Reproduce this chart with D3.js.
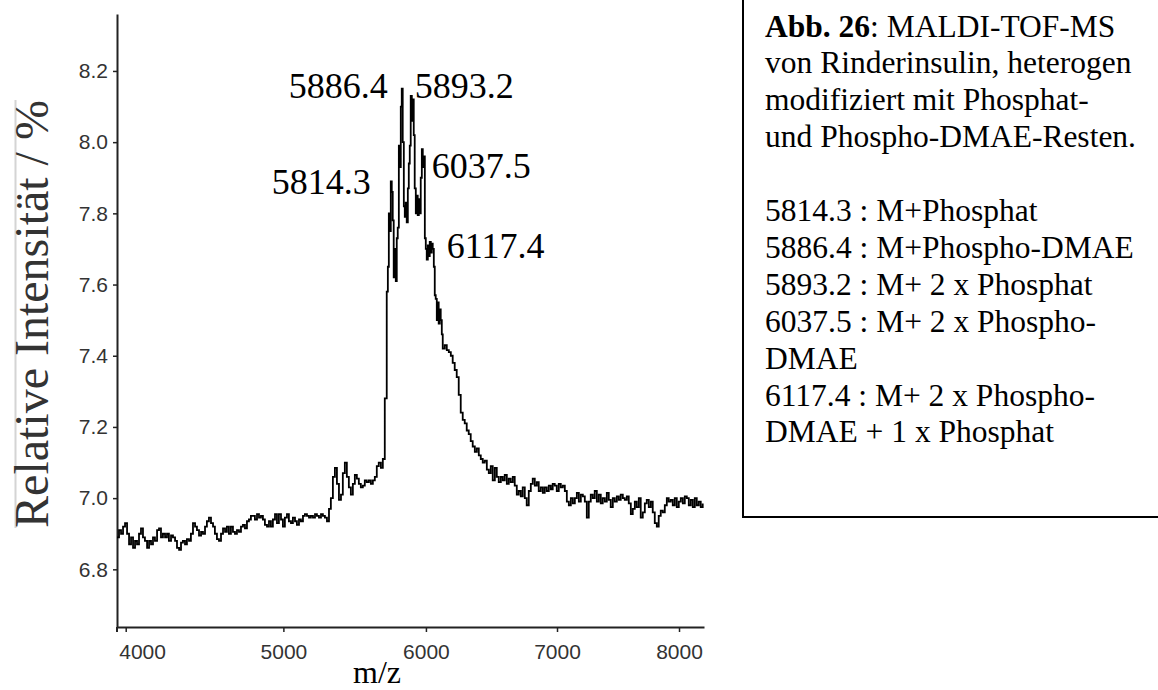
<!DOCTYPE html>
<html>
<head>
<meta charset="utf-8">
<script src="https://cdnjs.cloudflare.com/ajax/libs/d3/7.8.5/d3.min.js"></script>
<style>
	body { margin: 0; background: #fff; }
	svg { display: block; }
	.tick text { font-family: 'Liberation Sans', Arial, sans-serif; font-size: 21px; fill: #333; }
	.serif { font-family: 'Liberation Serif', 'Times New Roman', serif; }
</style>
</head>
<body>
<svg></svg>
<script>

// spectrum: m/z and relative intensity
var mz = [
	3948, 3960, 3972, 3984, 3996, 4008, 4020, 4032, 4044, 4056,
	4068, 4080, 4092, 4104, 4116, 4129, 4141, 4153, 4165, 4177,
	4190, 4202, 4214, 4226, 4239, 4251, 4263, 4276, 4288, 4301,
	4313, 4326, 4338, 4350, 4363, 4375, 4388, 4400, 4413, 4426,
	4438, 4451, 4464, 4476, 4489, 4501, 4514, 4527, 4540, 4552,
	4565, 4578, 4591, 4604, 4617, 4629, 4642, 4655, 4668, 4681,
	4694, 4707, 4720, 4733, 4746, 4759, 4772, 4785, 4798, 4811,
	4825, 4838, 4851, 4864, 4877, 4891, 4904, 4917, 4930, 4944,
	4957, 4970, 4984, 4997, 5010, 5024, 5037, 5051, 5064, 5078,
	5091, 5105, 5118, 5132, 5145, 5159, 5173, 5186, 5200, 5214,
	5227, 5241, 5255, 5268, 5282, 5296, 5310, 5323, 5337, 5351,
	5365, 5379, 5393, 5406, 5420, 5434, 5448, 5462, 5476, 5490,
	5504, 5518, 5532, 5546, 5560, 5574, 5589, 5603, 5617, 5631,
	5645, 5659, 5674, 5688,
	// peak cluster
	5702, 5716, 5724, 5731, 5738, 5745, 5752, 5759, 5766, 5774,
	5781, 5788, 5795, 5803, 5810, 5817, 5824, 5831, 5839, 5846,
	5853, 5860, 5868, 5875, 5882, 5889, 5897, 5904, 5911, 5918,
	5926, 5933, 5940, 5948, 5955, 5962, 5970, 5977, 5984, 5992,
	5999, 6006, 6014, 6021, 6028, 6036, 6043, 6050, 6058, 6065,
	6072, 6080, 6087, 6094, 6102, 6109, 6117,
	// tail
	6124, 6139, 6154, 6169, 6184, 6198, 6213, 6228, 6243, 6258,
	6273, 6288, 6303, 6318, 6333, 6348, 6364, 6379, 6394, 6409,
	6424, 6439, 6455, 6470, 6485, 6500, 6516, 6531, 6546, 6562,
	6577, 6592, 6608, 6623, 6638, 6654, 6669, 6685, 6700, 6716,
	6731, 6747, 6762, 6778, 6794, 6809, 6825, 6841, 6856, 6872,
	6888, 6903, 6919, 6935, 6951, 6966, 6982, 6998, 7014, 7030,
	7046, 7062, 7078, 7094, 7110, 7126, 7142, 7158, 7174, 7190,
	7206, 7222, 7238, 7254, 7270, 7286, 7302, 7319, 7335, 7351,
	7367, 7384, 7400, 7416, 7432, 7449, 7465, 7482, 7498, 7514,
	7531, 7547, 7564, 7580, 7597, 7613, 7630, 7646, 7663, 7679,
	7696, 7713, 7729, 7746, 7763, 7779, 7796, 7813, 7829, 7846,
	7863, 7880, 7897, 7913, 7930, 7947, 7964, 7981, 7998, 8015,
	8032, 8049, 8066, 8083, 8100, 8117, 8134, 8151, 8168, 8185,
	8202
];

var intensity = [
	6.89, 6.91, 6.90, 6.92, 6.93, 6.90, 6.87, 6.89, 6.86, 6.88,
	6.87, 6.90, 6.915, 6.89, 6.88, 6.86, 6.88, 6.87, 6.89, 6.88,
	6.91, 6.915, 6.89, 6.90, 6.89, 6.90, 6.88, 6.895, 6.89, 6.88,
	6.86, 6.855, 6.875, 6.88, 6.87, 6.885, 6.88, 6.90, 6.93, 6.92,
	6.91, 6.895, 6.905, 6.90, 6.92, 6.935, 6.945, 6.93, 6.92, 6.90,
	6.885, 6.88, 6.90, 6.915, 6.905, 6.92, 6.90, 6.92, 6.905, 6.90,
	6.91, 6.905, 6.92, 6.925, 6.915, 6.935, 6.94, 6.95, 6.95, 6.94,
	6.955, 6.945, 6.95, 6.94, 6.925, 6.92, 6.935, 6.92, 6.94, 6.955,
	6.93, 6.955, 6.94, 6.92, 6.945, 6.955, 6.935, 6.93, 6.945, 6.935,
	6.925, 6.94, 6.935, 6.95, 6.955, 6.95, 6.945, 6.95, 6.945, 6.955,
	6.95, 6.945, 6.955, 6.95, 6.945, 6.935, 6.97, 7.00, 7.06, 7.085,
	7.04, 6.995, 7.01, 7.07, 7.10, 7.06, 7.03, 7.01, 7.04, 7.065,
	7.055, 7.04, 7.03, 7.035, 7.05, 7.045, 7.05, 7.04, 7.05, 7.06,
	7.09, 7.10, 7.085, 7.11,
	// peak cluster
	7.28, 7.58, 7.65, 7.80, 7.75, 7.89, 7.86, 7.78, 7.62, 7.70,
	7.61, 7.73, 7.76, 7.99, 7.93, 8.10, 8.15, 8.00, 7.82, 7.79,
	7.83, 7.775, 7.87, 7.94, 7.99, 8.13, 8.06, 8.12, 8.02, 7.87,
	7.80, 7.85, 7.795, 7.84, 7.80, 7.90, 7.98, 7.93, 7.96, 7.73,
	7.70, 7.67, 7.71, 7.68, 7.72, 7.69, 7.715, 7.70, 7.65, 7.57,
	7.56, 7.50, 7.55, 7.49, 7.53, 7.50, 7.46,
	// tail
	7.42, 7.43, 7.416, 7.41, 7.40, 7.38, 7.36, 7.34, 7.29, 7.24,
	7.22, 7.21, 7.19, 7.18, 7.16, 7.145, 7.13, 7.14, 7.12, 7.11,
	7.10, 7.105, 7.08, 7.07, 7.09, 7.05, 7.085, 7.06, 7.045, 7.06,
	7.05, 7.065, 7.04, 7.055, 7.045, 7.06, 7.035, 7.01, 7.02, 7.005,
	7.03, 7.00, 6.98, 7.02, 7.04, 7.055, 7.035, 7.045, 7.02, 7.03,
	7.015, 7.03, 7.02, 7.035, 7.025, 7.04, 7.035, 7.02, 7.04, 7.03,
	7.035, 7.02, 6.99, 6.98, 7.00, 6.985, 7.00, 7.015, 6.99, 7.01,
	7.005, 6.99, 6.945, 6.99, 7.01, 7.00, 7.02, 6.99, 7.01, 6.985,
	7.00, 6.99, 7.015, 6.995, 6.975, 7.00, 6.99, 7.005, 6.995, 7.01,
	7.00, 6.995, 7.005, 6.985, 6.955, 6.97, 6.99, 6.975, 7.00, 6.945,
	6.96, 6.985, 6.995, 6.975, 6.99, 6.96, 6.93, 6.92, 6.95, 6.965,
	6.96, 6.98, 7.00, 6.99, 6.995, 6.98, 7.00, 6.975, 6.99, 7.00,
	6.985, 7.005, 7.00, 6.98, 6.995, 6.975, 7.00, 6.98, 6.99, 6.975,
	6.985
];

var xTicks = [4000, 5000, 6000, 7000, 8000];
var yTicks = [6.8, 7.0, 7.2, 7.4, 7.6, 7.8, 8.0, 8.2];

// peak labels, anchored in data units
var peakNames = ['5886.4', '5893.2', '5814.3', '6037.5', '6117.4'];
var peakMz = [5724, 5918, 5603, 6043, 6154];
var peakLevel = [8.124, 8.124, 7.854, 7.899, 7.674];
var peakSide = ['end', 'start', 'end', 'start', 'start'];

var captionLines = [
	'Abb. 26|: MALDI-TOF-MS',
	'von Rinderinsulin, heterogen',
	'modifiziert mit Phosphat-',
	'und Phospho-DMAE-Resten.',
	'',
	'5814.3 : M+Phosphat',
	'5886.4 : M+Phospho-DMAE',
	'5893.2 : M+ 2 x Phosphat',
	'6037.5 : M+ 2 x Phospho-',
	'DMAE',
	'6117.4 : M+ 2 x Phospho-',
	'DMAE + 1 x Phosphat'
];

var width = 1158;
var height = 690;

var svg = d3.select('svg')
		.attr('width', width)
		.attr('height', height);

// TOF axis: m/z runs on a square-root scale
var xScale = d3.scaleSqrt()
				.domain([3948, 8213])
				.range([117, 704]);

var yScale = d3.scaleLinear()
				.domain([6.638, 8.36])
				.range([627, 14]);

var xAxis = d3.axisBottom(xScale)
				.tickValues(xTicks)
				.tickFormat(d3.format('d'))
				.tickSize(5)
				.tickPadding(12)
				.tickSizeOuter(0);

var yAxis = d3.axisLeft(yScale)
				.tickValues(yTicks)
				.tickFormat(d3.format('.1f'))
				.tickSize(4)
				.tickPadding(5)
				.tickSizeOuter(0);

var gx = svg.append('g')
		.attr('transform', 'translate(0, 627)')
		.call(xAxis);

var gy = svg.append('g')
		.attr('transform', 'translate(117, 0)')
		.call(yAxis);

[gx, gy].forEach(g => {
	g.select('.domain').attr('stroke', '#222').attr('stroke-width', 2);
	g.selectAll('.tick line').attr('stroke', '#222').attr('stroke-width', 1.5);
});

// first x label is pushed right so it clears the y axis
gx.selectAll('.tick text')
	.filter(d => d === xTicks[0])
	.attr('text-anchor', 'start')
	.attr('x', -7);

// little stub of the y axis below the corner
svg.append('line')
	.attr('x1', 117).attr('x2', 117)
	.attr('y1', 627).attr('y2', 632)
	.attr('stroke', '#222')
	.attr('stroke-width', 2);

var line = d3.line()
		.x((d, i) => xScale(mz[i]))
		.y(d => yScale(d))
		.curve(d3.curveStepAfter);

svg.append('path')
	.datum(intensity)
	.attr('d', line)
	.attr('fill', 'none')
	.attr('stroke', '#000')
	.attr('stroke-width', 1.8);

// peak labels
svg.selectAll('.peak')
	.data(peakNames)
	.enter()
	.append('text')
		.attr('class', 'peak serif')
		.attr('x', (d, i) => xScale(peakMz[i]))
		.attr('y', (d, i) => yScale(peakLevel[i]))
		.attr('text-anchor', (d, i) => peakSide[i])
		.style('font-size', '36px')
		.text(d => d);

// axis titles
svg.append('line')
	.attr('x1', 15.5).attr('x2', 15.5)
	.attr('y1', 100).attr('y2', 528)
	.attr('stroke', '#d4d4d4')
	.attr('stroke-width', 2);

svg.append('text')
	.attr('class', 'serif')
	.attr('transform', 'translate(48, 314) rotate(-90)')
	.attr('text-anchor', 'middle')
	.style('font-size', '48px')
	.style('fill', '#333')
	.text('Relative Intensität / %');

// m/z sits just left of the 6000 label
svg.append('text')
	.attr('class', 'serif')
	.attr('x', 377)
	.attr('y', 683)
	.attr('text-anchor', 'middle')
	.style('font-size', '32px')
	.text('m/z');

// caption box, top and right edges run off the page
svg.append('rect')
	.attr('x', 743)
	.attr('y', -10)
	.attr('width', 500)
	.attr('height', 527)
	.attr('fill', 'none')
	.attr('stroke', '#000')
	.attr('stroke-width', 2);

var caption = svg.append('text')
		.attr('class', 'serif')
		.style('font-size', '31.5px');

caption.selectAll('tspan')
	.data(captionLines)
	.enter()
	.append('tspan')
		.attr('x', 765)
		.attr('y', (d, i) => 36.5 + i * 36.9)
		.each(function(d) {
			var parts = d.split('|');
			if (parts.length > 1) {
				d3.select(this).append('tspan').style('font-weight', 'bold').text(parts[0]);
				d3.select(this).append('tspan').text(parts[1]);
			} else {
				d3.select(this).text(d);
			}
		});

</script>
</body>
</html>
